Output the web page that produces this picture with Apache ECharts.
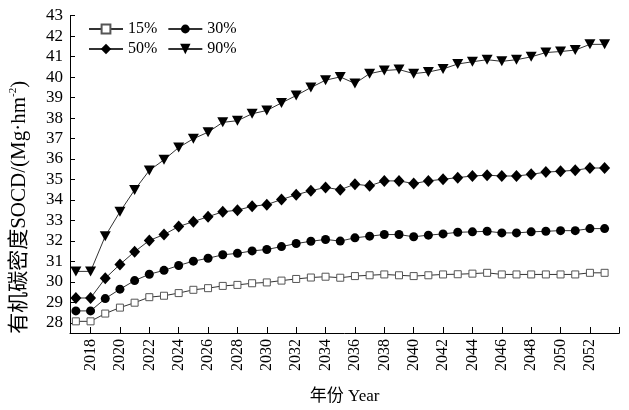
<!DOCTYPE html>
<html>
<head>
<meta charset="utf-8">
<script src="https://cdn.jsdelivr.net/npm/echarts@6/dist/echarts.min.js"></script>
<style>html,body{margin:0;padding:0;background:#fff}#c{width:629px;height:410px}</style>
</head>
<body>
<div id="c"></div>
<script>
var years = [2017,2018,2019,2020,2021,2022,2023,2024,2025,2026,2027,2028,2029,2030,2031,2032,2033,2034,2035,2036,2037,2038,2039,2040,2041,2042,2043,2044,2045,2046,2047,2048,2049,2050,2051,2052,2053];
var s15 = [28.07,28.07,28.45,28.74,28.98,29.25,29.32,29.45,29.61,29.69,29.80,29.85,29.93,29.97,30.06,30.14,30.21,30.25,30.20,30.28,30.32,30.36,30.32,30.28,30.32,30.36,30.37,30.40,30.44,30.36,30.36,30.36,30.36,30.36,30.36,30.44,30.44];
var s30 = [28.58,28.58,29.18,29.64,30.06,30.37,30.56,30.80,31.01,31.15,31.32,31.39,31.51,31.58,31.72,31.87,31.98,32.07,31.99,32.15,32.23,32.31,32.31,32.20,32.28,32.34,32.42,32.44,32.47,32.39,32.39,32.44,32.47,32.50,32.50,32.60,32.60];
var s50 = [29.21,29.21,30.17,30.85,31.47,32.02,32.31,32.70,32.94,33.18,33.42,33.50,33.69,33.77,34.02,34.25,34.45,34.61,34.50,34.77,34.69,34.93,34.93,34.80,34.93,35.01,35.09,35.17,35.21,35.17,35.17,35.25,35.36,35.40,35.45,35.56,35.56];
var s90 = [30.51,30.51,32.23,33.42,34.49,35.44,35.96,36.56,36.99,37.31,37.79,37.87,38.21,38.37,38.74,39.10,39.49,39.85,40.01,39.69,40.17,40.32,40.37,40.17,40.25,40.40,40.64,40.75,40.85,40.77,40.85,40.99,41.20,41.25,41.32,41.60,41.60];
var xTicks = [2018,2020,2022,2024,2026,2028,2030,2032,2034,2036,2038,2040,2042,2044,2046,2048,2050,2052,2054];
var xLabels = [2018,2020,2022,2024,2026,2028,2030,2032,2034,2036,2038,2040,2042,2044,2046,2048,2050,2052];
var yTicks = [28,29,30,31,32,33,34,35,36,37,38,39,40,41,42,43];
var seriesNames = ['15%','30%','50%','90%'];

function pairs(arr){ return years.map(function(y,i){ return [y, arr[i]]; }); }
var serif = '"Liberation Serif","Noto Sans CJK SC",serif';
var lineStyle = {color:'#333', width:1};
var legendBase = {left:83, itemWidth:34, itemGap:10,
  textStyle:{fontFamily:serif, fontSize:16, color:'#000'}};

var chart = echarts.init(document.getElementById('c'));
chart.setOption({
  animation:false,
  backgroundColor:'#fff',
  grid:{left:60.5, right:9.7, top:15.7, bottom:69.3, containLabel:false},
  legend:[
    Object.assign({}, legendBase, {top:16, itemHeight:11, data:seriesNames.slice(0,2)}),
    Object.assign({}, legendBase, {top:36, itemHeight:13, data:seriesNames.slice(2,4)})
  ],
  xAxis:{
    type:'value', min:2016.6, max:2054,
    name:'年份 Year', nameLocation:'middle', nameGap:55,
    nameTextStyle:{fontFamily:serif, fontSize:17, color:'#000'},
    axisLine:{lineStyle:{color:'#000', width:1}},
    axisTick:{inside:true, length:6, customValues:xTicks, lineStyle:{color:'#000'}},
    axisLabel:{rotate:90, margin:6, customValues:xLabels, fontFamily:serif, fontSize:16, color:'#000',
      formatter:function(v){ return String(v); }},
    splitLine:{show:false}
  },
  yAxis:{
    type:'value', min:27.5, max:43,
    name:'{a|有机碳密度SOCD/(Mg·hm}{s|-2}{a|)}', nameLocation:'middle', nameGap:40, nameRotate:90,
    nameTextStyle:{fontFamily:serif, fontSize:21, color:'#000', padding:[0,66,0,0],
      rich:{a:{fontFamily:serif, fontSize:21, color:'#000', lineHeight:22},
            s:{fontFamily:serif, fontSize:11, color:'#000', verticalAlign:'top', lineHeight:22}}},
    axisLine:{show:true, lineStyle:{color:'#000', width:1}},
    axisTick:{show:true, inside:true, length:5, customValues:yTicks, lineStyle:{color:'#000'}},
    axisLabel:{margin:7, customValues:yTicks, fontFamily:serif, fontSize:17, color:'#000'},
    splitLine:{show:false}
  },
  series:[
    {name:'15%', type:'line', data:pairs(s15), symbol:'rect', symbolSize:7,
      lineStyle:lineStyle, itemStyle:{color:'#fff', borderColor:'#555', borderWidth:1}},
    {name:'30%', type:'line', data:pairs(s30), symbol:'circle', symbolSize:9,
      lineStyle:lineStyle, itemStyle:{color:'#000', borderColor:'#000', borderWidth:0}},
    {name:'50%', type:'line', data:pairs(s50), symbol:'diamond', symbolSize:[11,12],
      lineStyle:lineStyle, itemStyle:{color:'#000', borderColor:'#000', borderWidth:0}},
    {name:'90%', type:'line', data:pairs(s90), symbol:'triangle', symbolRotate:180, symbolSize:[11,10],
      lineStyle:lineStyle, itemStyle:{color:'#000', borderColor:'#000', borderWidth:0}}
  ]
});
</script>
</body>
</html>
